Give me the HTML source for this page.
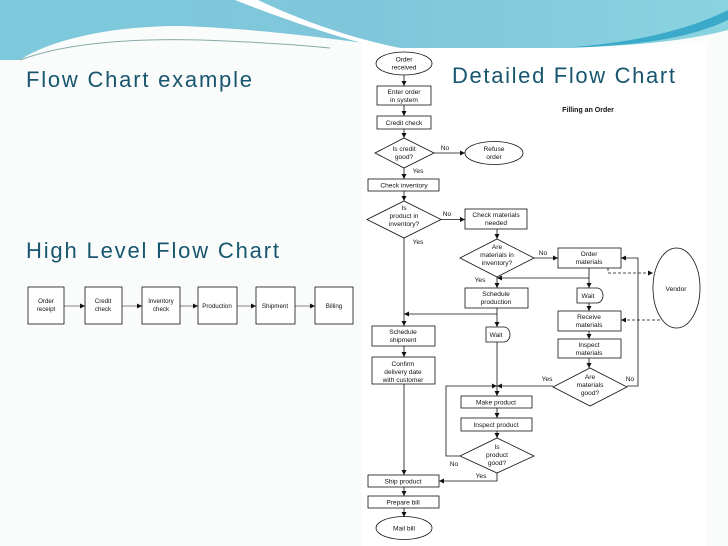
<!DOCTYPE html>
<html><head><meta charset="utf-8"><style>
html,body{margin:0;padding:0;background:#fafbfb;}
svg{display:block}
.t{font-family:"Liberation Sans",sans-serif;font-size:6.6px;fill:#111;text-anchor:middle}
.h{font-family:"Liberation Sans",sans-serif;font-size:22px;fill:#17566e}
</style></head><body>
<svg width="728" height="546" viewBox="0 0 728 546" xmlns="http://www.w3.org/2000/svg">
<defs>
<marker id="a" markerWidth="6" markerHeight="6" refX="5" refY="3" orient="auto" markerUnits="userSpaceOnUse"><path d="M0,0.5 L5,3 L0,5.5 z" fill="#111"/></marker>
<linearGradient id="g1" x1="0" y1="0" x2="1" y2="0"><stop offset="0" stop-color="#7ec9dc"/><stop offset="0.5" stop-color="#7fc6da"/><stop offset="1" stop-color="#8ad3e0"/></linearGradient>
</defs>
<rect x="362" y="44" width="344" height="502" fill="#fff"/>
<!-- header wave -->
<path d="M0,0 H728 V30 C690,40 640,46 560,48 L400,48 C330,38 250,28 180,26 C110,26 50,40 20,60 L0,60 Z" fill="url(#g1)"/>
<path d="M235,0 L258,0 C300,20 350,38 400,48 L380,48 C330,35 280,18 235,0 Z" fill="#fff"/>
<path d="M560,48 C620,44 680,34 728,10 V20 C690,38 640,46 560,48 Z" fill="#3ba9c9"/>
<path d="M20,60 C60,45 120,38 200,40 C260,42 300,45 330,48" fill="none" stroke="#8aa" stroke-width="1"/>
<!-- titles -->
<text class="h" x="26" y="87" textLength="226">Flow Chart example</text>
<text class="h" x="26" y="258" textLength="253">High Level  Flow Chart</text>
<text class="h" x="452" y="83" textLength="223">Detailed Flow Chart</text>
<!-- high level -->
<g fill="#fff" stroke="#111" stroke-width="0.8">
<rect x="28" y="287" width="36" height="37"/><rect x="85" y="287" width="37" height="37"/>
<rect x="142" y="287" width="38" height="37"/><rect x="198" y="287" width="39" height="37"/>
<rect x="256" y="287" width="39" height="37"/><rect x="315" y="287" width="38" height="37"/>
</g>
<g stroke="#111" stroke-width="0.6" marker-end="url(#a)">
<line x1="64" y1="306" x2="85" y2="306"/><line x1="122" y1="306" x2="142" y2="306"/>
<line x1="180" y1="306" x2="198" y2="306"/><line x1="237" y1="306" x2="256" y2="306"/>
<line x1="295" y1="306" x2="315" y2="306"/>
</g>
<g class="t" style="font-size:6.2px">
<text x="46" y="303">Order</text><text x="46" y="311">receipt</text>
<text x="103" y="303">Credit</text><text x="103" y="311">check</text>
<text x="161" y="303">Inventory</text><text x="161" y="311">check</text>
<text x="217" y="308">Production</text><text x="275" y="308">Shipment</text><text x="334" y="308">Billing</text>
</g>
<!-- detailed shapes -->
<g fill="#fff" stroke="#111" stroke-width="0.8">
<ellipse cx="404" cy="63.5" rx="28" ry="11.5"/>
<rect x="377" y="86" width="54" height="19"/>
<rect x="377" y="116" width="54" height="13"/>
<polygon points="375,153 404,138 434,153 404,168"/>
<ellipse cx="494" cy="153" rx="29" ry="11.5"/>
<rect x="368" y="179" width="71" height="12"/>
<polygon points="367,219.5 404,201 441,219.5 404,238"/>
<rect x="465" y="209" width="62" height="20"/>
<polygon points="460,258 497,239 534,258 497,277"/>
<rect x="558" y="248" width="63" height="20"/>
<ellipse cx="676.5" cy="288" rx="23.5" ry="40"/>
<rect x="465" y="288" width="63" height="20"/>
<path d="M577,288 H597 A6,7.5 0 0 1 597,303 H577 Z"/>
<path d="M486,327 H504 A6,7.5 0 0 1 504,342 H486 Z"/>
<rect x="372" y="326" width="63" height="20"/>
<rect x="372" y="357" width="63" height="27"/>
<rect x="558" y="311" width="63" height="20"/>
<rect x="558" y="339" width="63" height="19"/>
<polygon points="553,387 590,368 627,387 590,406"/>
<rect x="461" y="396" width="71" height="12"/>
<rect x="461" y="418" width="71" height="13"/>
<polygon points="460,456 497,438 534,456 497,473"/>
<rect x="368" y="475" width="71" height="12"/>
<rect x="368" y="496" width="71" height="12"/>
<ellipse cx="404" cy="528" rx="28" ry="11.5"/>
</g>
<!-- connectors -->
<g stroke="#111" stroke-width="0.8" fill="none" marker-end="url(#a)">
<line x1="404" y1="75" x2="404" y2="86"/>
<line x1="404" y1="105" x2="404" y2="116"/>
<line x1="404" y1="129" x2="404" y2="138"/>
<line x1="434" y1="153" x2="465" y2="153"/>
<line x1="404" y1="168" x2="404" y2="179"/>
<line x1="404" y1="191" x2="404" y2="201"/>
<line x1="441" y1="219.5" x2="465" y2="219.5"/>
<line x1="497" y1="229" x2="497" y2="239"/>
<line x1="534" y1="258" x2="558" y2="258"/>
<line x1="404" y1="238" x2="404" y2="326"/>
<polyline points="589,268 589,278 497,278"/>
<line x1="497" y1="277" x2="497" y2="288"/>
<line x1="589" y1="278" x2="589" y2="288"/>
<line x1="589" y1="303" x2="589" y2="311"/>
<line x1="589" y1="331" x2="589" y2="339"/>
<line x1="589" y1="358" x2="589" y2="368"/>
<polyline points="497,308 497,314 404,314"/>
<line x1="497" y1="314" x2="497" y2="327"/>
<line x1="497" y1="342" x2="497" y2="396"/>
<polyline points="553,386 497,386"/>
<polyline points="460,456 446,456 446,386 497,386"/>
<polyline points="627,386 638,386 638,258 621,258"/>
<line x1="404" y1="346" x2="404" y2="357"/>
<line x1="404" y1="384" x2="404" y2="475"/>
<line x1="497" y1="408" x2="497" y2="418"/>
<line x1="497" y1="431" x2="497" y2="438"/>
<polyline points="497,473 497,481 439,481"/>
<line x1="404" y1="487" x2="404" y2="496"/>
<line x1="404" y1="508" x2="404" y2="517"/>
</g>
<g stroke="#111" stroke-width="0.8" fill="none" stroke-dasharray="3,2" marker-end="url(#a)">
<polyline points="608,268 608,273 653,273"/>
<line x1="660" y1="320" x2="621" y2="320"/>
</g>
<!-- labels -->
<g class="t">
<text x="404" y="61.5">Order</text><text x="404" y="69.5">received</text>
<text x="404" y="94">Enter order</text><text x="404" y="102">in system</text>
<text x="404" y="125">Credit check</text>
<text x="404" y="151">Is credit</text><text x="404" y="159">good?</text>
<text x="445" y="150">No</text>
<text x="494" y="151">Refuse</text><text x="494" y="159">order</text>
<text x="418" y="173">Yes</text>
<text x="404" y="187.5">Check inventory</text>
<text x="404" y="210">Is</text><text x="404" y="218">product in</text><text x="404" y="226">inventory?</text>
<text x="447" y="216">No</text>
<text x="496" y="217">Check materials</text><text x="496" y="225">needed</text>
<text x="418" y="244">Yes</text>
<text x="497" y="249">Are</text><text x="497" y="257">materials in</text><text x="497" y="265">inventory?</text>
<text x="543" y="255">No</text>
<text x="589" y="256">Order</text><text x="589" y="264">materials</text>
<text x="480" y="282">Yes</text>
<text x="676" y="291">Vendor</text>
<text x="496" y="296">Schedule</text><text x="496" y="304">production</text>
<text x="588" y="298">Wait</text>
<text x="496" y="337">Wait</text>
<text x="403" y="334">Schedule</text><text x="403" y="342">shipment</text>
<text x="589" y="319">Receive</text><text x="589" y="327">materials</text>
<text x="589" y="347">Inspect</text><text x="589" y="355">materials</text>
<text x="403" y="366">Confirm</text><text x="403" y="374">delivery date</text><text x="403" y="382">with customer</text>
<text x="590" y="379">Are</text><text x="590" y="387">materials</text><text x="590" y="395">good?</text>
<text x="547" y="381">Yes</text><text x="630" y="381">No</text>
<text x="496" y="404.5">Make product</text>
<text x="496" y="427">Inspect product</text>
<text x="497" y="449">Is</text><text x="497" y="457">product</text><text x="497" y="465">good?</text>
<text x="454" y="466">No</text><text x="481" y="478">Yes</text>
<text x="403" y="483.5">Ship product</text>
<text x="403" y="504.5">Prepare bill</text>
<text x="404" y="530.5">Mail bill</text>
<text x="588" y="112" style="font-weight:bold;font-size:7px">Filling an Order</text>
</g>
</svg>
</body></html>
